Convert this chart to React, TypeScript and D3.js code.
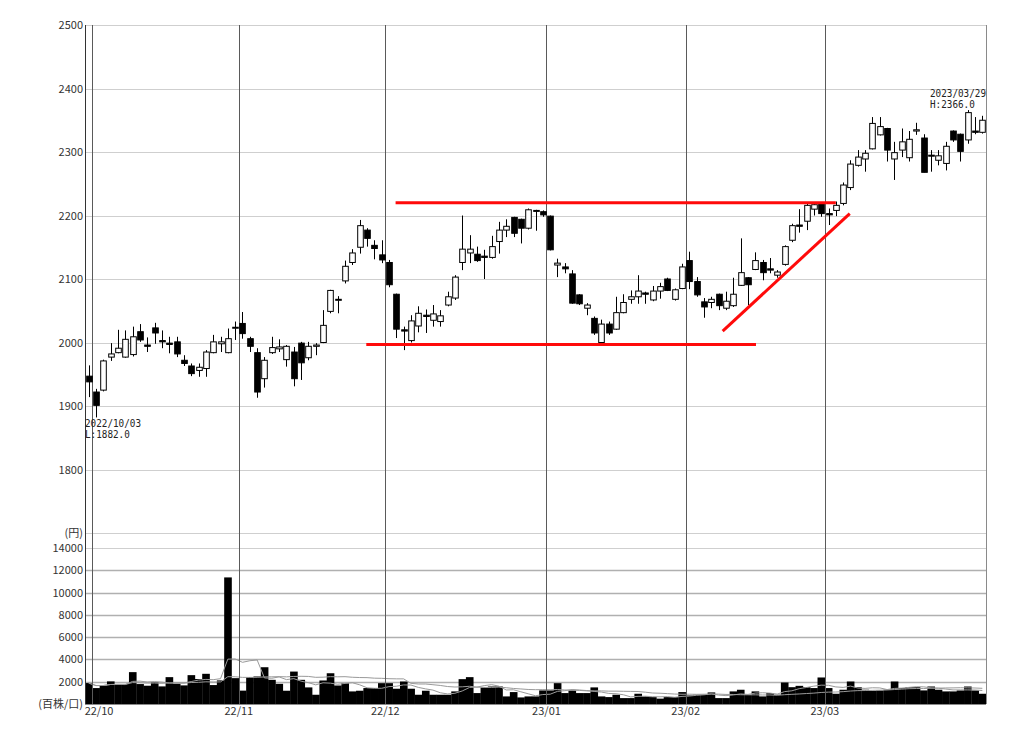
import React, { useEffect, useRef } from 'react';
import * as d3 from 'd3';

// daily candles, 2022/09/30 .. 2023/03/31 : [open, high, low, close]
const ohlc: number[][] = [
    [1947, 1964, 1914, 1938], [1922, 1927, 1882, 1901], [1925, 1973, 1923, 1971], [1977, 1999, 1971, 1982],
    [1984, 2020, 1983, 1991], [1977, 2019, 1976, 2005], [1981, 2025, 1978, 2009], [2017, 2029, 2001, 2004],
    [1996, 2008, 1985, 1994], [2023, 2031, 1998, 2015], [2003, 2019, 1991, 2001], [1999, 2009, 1983, 1997],
    [2001, 2009, 1977, 1982], [1972, 1980, 1963, 1967], [1963, 1967, 1947, 1951], [1956, 1967, 1946, 1961],
    [1959, 1988, 1946, 1985], [1984, 2012, 1983, 2001], [1998, 2009, 1985, 2001], [1984, 2022, 1983, 2006],
    [2023, 2033, 2004, 2024], [2030, 2048, 2006, 2014], [2006, 2009, 1985, 1994], [1984, 1991, 1913, 1922],
    [1943, 1977, 1929, 1972], [1984, 2009, 1982, 1992], [1990, 2005, 1985, 1993], [1973, 1996, 1962, 1994],
    [1985, 1993, 1931, 1943], [1999, 2001, 1941, 1968], [1976, 2001, 1972, 1994], [1994, 1999, 1980, 1996],
    [2000, 2051, 1999, 2027], [2049, 2083, 2046, 2082], [2067, 2073, 2046, 2068], [2097, 2129, 2093, 2120],
    [2126, 2147, 2122, 2141], [2150, 2193, 2140, 2184], [2177, 2180, 2151, 2164], [2153, 2161, 2131, 2148],
    [2138, 2161, 2125, 2130], [2126, 2130, 2087, 2091], [2076, 2077, 2007, 2021], [2020, 2025, 1988, 2018],
    [2003, 2043, 2000, 2034], [2026, 2057, 2016, 2046], [2043, 2052, 2015, 2041], [2035, 2059, 2025, 2045],
    [2033, 2051, 2025, 2042], [2059, 2080, 2057, 2072], [2070, 2106, 2067, 2103], [2126, 2200, 2114, 2147],
    [2141, 2169, 2125, 2147], [2139, 2151, 2127, 2129], [2136, 2146, 2100, 2134], [2134, 2168, 2132, 2151],
    [2159, 2190, 2140, 2177], [2177, 2194, 2166, 2183], [2197, 2198, 2166, 2172], [2194, 2195, 2156, 2180],
    [2180, 2211, 2178, 2209], [2207, 2209, 2176, 2208], [2206, 2208, 2198, 2201], [2199, 2200, 2145, 2146],
    [2122, 2132, 2103, 2125], [2119, 2125, 2109, 2116], [2108, 2114, 2061, 2062], [2075, 2076, 2059, 2061],
    [2054, 2062, 2043, 2059], [2038, 2041, 2012, 2015], [2000, 2036, 1999, 2029], [2029, 2033, 2012, 2015],
    [2021, 2072, 2020, 2047], [2047, 2076, 2046, 2063], [2068, 2082, 2061, 2072], [2072, 2106, 2061, 2081],
    [2078, 2080, 2061, 2076], [2067, 2089, 2065, 2081], [2081, 2094, 2069, 2088], [2100, 2102, 2081, 2082],
    [2068, 2085, 2066, 2083], [2085, 2124, 2084, 2119], [2129, 2143, 2084, 2096], [2096, 2103, 2072, 2075],
    [2064, 2070, 2039, 2056], [2063, 2072, 2054, 2068], [2076, 2077, 2051, 2058], [2054, 2080, 2051, 2065],
    [2058, 2102, 2056, 2076], [2090, 2164, 2089, 2110], [2102, 2103, 2059, 2091], [2115, 2142, 2114, 2129],
    [2126, 2130, 2098, 2110], [2116, 2133, 2109, 2114], [2106, 2114, 2102, 2111], [2123, 2153, 2121, 2151],
    [2161, 2187, 2158, 2184], [2185, 2210, 2173, 2183], [2191, 2220, 2177, 2216], [2210, 2220, 2200, 2217],
    [2219, 2220, 2198, 2203], [2203, 2211, 2185, 2201], [2208, 2222, 2199, 2216], [2219, 2252, 2216, 2248],
    [2244, 2287, 2240, 2281], [2279, 2303, 2277, 2292], [2289, 2303, 2269, 2298], [2305, 2355, 2304, 2345],
    [2327, 2355, 2326, 2340], [2337, 2338, 2285, 2303], [2289, 2316, 2256, 2299], [2303, 2337, 2292, 2316],
    [2291, 2333, 2285, 2320], [2333, 2346, 2327, 2335], [2322, 2328, 2268, 2268], [2295, 2303, 2269, 2294],
    [2287, 2303, 2279, 2294], [2282, 2316, 2271, 2309], [2333, 2334, 2316, 2319], [2328, 2329, 2285, 2301],
    [2319, 2366, 2313, 2362], [2333, 2355, 2328, 2331], [2331, 2357, 2329, 2350],
];

// volume, 百株
const volume = [
    1880, 1430, 1670, 2030, 1790, 1790, 2860, 1790, 1640, 1940, 1580, 2410, 1820, 1670, 2590, 2240,
    2710, 1700, 2120, 11360, 2320, 1200, 2410, 2470, 3300, 2170, 1810, 1190, 2910, 2170, 1490, 830,
    2110, 2760, 1660, 1870, 1130, 1190, 1430, 1430, 1870, 1870, 1370, 2020, 1370, 830, 1190, 830,
    830, 830, 1130, 2230, 2410, 980, 1490, 1570, 1570, 680, 1070, 590, 680, 680, 1220, 1220,
    1870, 980, 1220, 980, 980, 1490, 680, 620, 830, 530, 530, 920, 680, 620, 480, 620,
    620, 1070, 770, 830, 830, 1040, 530, 530, 1130, 1280, 830, 1130, 680, 980, 830, 1930,
    1510, 1630, 1510, 1430, 2380, 1430, 920, 1280, 2020, 1510, 1280, 1190, 1220, 1280, 2020, 1430,
    1510, 1510, 1220, 1570, 1280, 1130, 1130, 1220, 1570, 1220, 920,
];

const monthLabels = ['22/10', '22/11', '22/12', '23/01', '23/02', '23/03'];
const monthStart = [1, 21, 41, 63, 82, 101]; // index of the first trading day
const priceTicks = [1800, 1900, 2000, 2100, 2200, 2300, 2400, 2500];
const volumeTicks = [2000, 4000, 6000, 8000, 10000, 12000, 14000];
const volumeMA = [5, 25];

// hand drawn lines: [index, price] -> [index, price]
const trendLines = [
    [[42.4, 2220], [102.5, 2220]],
    [[38.4, 1997], [91.6, 1997]],
    [[87.05, 2018], [104.4, 2203]],
];

const LEFT = 85;
const RIGHT = 986;
const PRICE_TOP = 25;
const PRICE_BOTTOM = 533;
const VOL_TOP = 548;
const VOL_BOTTOM = 704;
const FONT = '"Noto Sans CJK JP", "Noto Sans", sans-serif';
const MONO = '"DejaVu Sans Mono", monospace';

const CandleChart = () => {
    const ref = useRef<SVGSVGElement>(null);

    useEffect(() => {
        plotChart();
    }, []);

    const movingAverage = (n: number) =>
        volume.map((_, i) => {
            const w = volume.slice(Math.max(0, i - n + 1), i + 1);
            return d3.mean(w)!;
        });

    const plotChart = () => {
        const svg = d3.select(ref.current);
        svg.selectAll('*').remove();

        const x = d3.scaleLinear().domain([0, ohlc.length]).range([LEFT, RIGHT]);
        const step = x(1) - x(0);
        const yP = d3.scaleLinear().domain([1700, 2500]).range([PRICE_BOTTOM, PRICE_TOP]);
        const yV = d3.scaleLinear().domain([0, 14000]).range([VOL_BOTTOM, VOL_TOP]);

        // price grid
        svg.append('g').selectAll('line')
            .data([1700, ...priceTicks])
            .enter().append('line')
            .attr('x1', LEFT).attr('x2', RIGHT)
            .attr('y1', d => Math.round(yP(d)) + 0.5).attr('y2', d => Math.round(yP(d)) + 0.5)
            .attr('stroke', '#cfcfcf');

        // volume grid
        svg.append('g').selectAll('line')
            .data(volumeTicks)
            .enter().append('line')
            .attr('x1', LEFT).attr('x2', RIGHT)
            .attr('y1', d => Math.round(yV(d)) + 0.5).attr('y2', d => Math.round(yV(d)) + 0.5)
            .attr('stroke', d => d === 14000 ? '#cfcfcf' : '#b0b0b0')
            .attr('stroke-width', d => d === 14000 ? 1 : 1.3);

        // volume bars
        svg.append('g').selectAll('rect')
            .data(volume)
            .enter().append('rect')
            .attr('x', (d, i) => x(i))
            .attr('width', step + 0.3)
            .attr('y', d => yV(d))
            .attr('height', d => VOL_BOTTOM - yV(d))
            .attr('fill', '#000');

        // volume moving averages
        const maLine = d3.line<number>()
            .x((d, i) => x(i + 0.5))
            .y(d => yV(d));
        volumeMA.forEach(n => {
            svg.append('path')
                .datum(movingAverage(n))
                .attr('fill', 'none')
                .attr('stroke', '#9a9a9a')
                .attr('stroke-width', 1)
                .attr('d', maLine);
        });

        // month lines
        svg.append('g').selectAll('line')
            .data(monthStart)
            .enter().append('line')
            .attr('x1', d => Math.round(x(d)) + 0.5).attr('x2', d => Math.round(x(d)) + 0.5)
            .attr('y1', PRICE_TOP).attr('y2', VOL_BOTTOM)
            .attr('stroke', '#5a5a5a');

        // frame
        svg.append('line')
            .attr('x1', LEFT + 0.5).attr('x2', LEFT + 0.5)
            .attr('y1', PRICE_TOP).attr('y2', VOL_BOTTOM)
            .attr('stroke', '#333');
        svg.append('line')
            .attr('x1', RIGHT + 0.5).attr('x2', RIGHT + 0.5)
            .attr('y1', PRICE_TOP).attr('y2', VOL_BOTTOM)
            .attr('stroke', '#8a8a8a');
        svg.append('line')
            .attr('x1', LEFT).attr('x2', RIGHT)
            .attr('y1', VOL_BOTTOM + 0.5).attr('y2', VOL_BOTTOM + 0.5)
            .attr('stroke', '#8a8a8a');

        // candles
        const bw = 5.6;
        const candles = svg.append('g').selectAll('g')
            .data(ohlc)
            .enter().append('g');
        candles.append('line')
            .attr('x1', (d, i) => Math.round(x(i + 0.5)) + 0.5)
            .attr('x2', (d, i) => Math.round(x(i + 0.5)) + 0.5)
            .attr('y1', d => yP(d[1]))
            .attr('y2', d => yP(d[2]))
            .attr('stroke', '#000');
        candles.append('rect')
            .attr('x', (d, i) => Math.round(x(i + 0.5)) + 0.5 - bw / 2)
            .attr('width', bw)
            .attr('y', d => yP(Math.max(d[0], d[3])))
            .attr('height', d => Math.max(1, Math.abs(yP(d[0]) - yP(d[3]))))
            .attr('fill', d => d[3] >= d[0] ? '#fff' : '#000')
            .attr('stroke', '#000')
            .attr('stroke-width', 1);

        // red lines
        svg.append('g').selectAll('line')
            .data(trendLines)
            .enter().append('line')
            .attr('x1', d => x(d[0][0])).attr('y1', d => yP(d[0][1]))
            .attr('x2', d => x(d[1][0])).attr('y2', d => yP(d[1][1]))
            .attr('stroke', '#ff0a0a')
            .attr('stroke-width', 3);

        // price axis labels
        svg.append('g').selectAll('text')
            .data(priceTicks)
            .enter().append('text')
            .attr('x', LEFT - 2)
            .attr('y', d => yP(d) + 4)
            .attr('text-anchor', 'end')
            .style('font-family', FONT)
            .style('font-size', '11px')
            .attr('fill', '#333')
            .text(d => d);
        svg.append('text')
            .attr('x', LEFT - 2).attr('y', PRICE_BOTTOM + 4)
            .attr('text-anchor', 'end')
            .style('font-family', FONT).style('font-size', '11px')
            .attr('fill', '#333')
            .text('(円)');

        // volume axis labels
        svg.append('g').selectAll('text')
            .data(volumeTicks)
            .enter().append('text')
            .attr('x', LEFT - 2)
            .attr('y', d => yV(d) + 4)
            .attr('text-anchor', 'end')
            .style('font-family', FONT)
            .style('font-size', '11px')
            .attr('fill', '#333')
            .text(d => d);
        svg.append('text')
            .attr('x', LEFT - 2).attr('y', VOL_BOTTOM + 4)
            .attr('text-anchor', 'end')
            .style('font-family', FONT).style('font-size', '11px')
            .attr('fill', '#333')
            .text('(百株/口)');

        // month labels
        svg.append('g').selectAll('text')
            .data(monthLabels)
            .enter().append('text')
            .attr('x', (d, i) => Math.max(LEFT + 14, x(monthStart[i])))
            .attr('y', VOL_BOTTOM + 11)
            .attr('text-anchor', 'middle')
            .style('font-family', FONT)
            .style('font-size', '11px')
            .attr('fill', '#333')
            .text(d => d);

        // low / high marks
        const lowIdx = d3.minIndex(ohlc, d => d[2]);
        const highIdx = d3.maxIndex(ohlc, d => d[1]);
        const marks = [
            { lines: ['2022/10/03', 'L:' + ohlc[lowIdx][2].toFixed(1)], x: LEFT, y: yP(ohlc[lowIdx][2]) + 10 },
            { lines: ['2023/03/29', 'H:' + ohlc[highIdx][1].toFixed(1)], x: 930, y: yP(ohlc[highIdx][1]) - 13 },
        ];
        marks.forEach(m => {
            m.lines.forEach((t, k) => {
                svg.append('text')
                    .attr('x', m.x)
                    .attr('y', m.y + k * 10.5)
                    .attr('textLength', t.length * 5.6)
                    .attr('lengthAdjust', 'spacingAndGlyphs')
                    .style('font-family', MONO)
                    .style('font-size', '10px')
                    .attr('fill', '#222')
                    .text(t);
            });
        });
    };

    return (
        <svg ref={ref} width={1024} height={744}
            style={{ position: 'absolute', left: 0, top: 0, background: '#fff' }} />
    );
};

export default function App() {
    return <CandleChart />;
}
